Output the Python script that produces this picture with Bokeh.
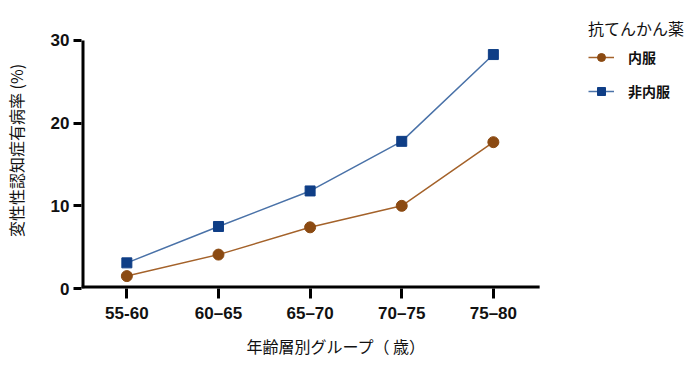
from bokeh.plotting import figure
from bokeh.models import Range1d, Legend, LegendItem, FixedTicker, Title
from bokeh.embed import file_html
from bokeh.resources import INLINE

categories = ["55-60", "60\u201365", "65\u201370", "70\u201375", "75\u201380"]
oral = [1.5, 4.1, 7.4, 10.0, 17.7]
non_oral = [3.1, 7.5, 11.8, 17.8, 28.3]
y_ticks = [0, 10, 20, 30]

xs = list(range(len(categories)))

brown = "#8b4a12"
brown_line = "#a4622a"
blue = "#0f3e86"
blue_line = "#4a72a8"

# axis extents (data units) of the visible axes
x_lo, x_hi = -0.495, 4.505
y_lo, y_hi = 0, 30

p = figure(width=692, height=375, output_backend="svg", toolbar_location=None,
           x_range=Range1d(x_lo, 6.086), y_range=Range1d(y_lo, 33.387),
           min_border_left=72, min_border_right=8, min_border_top=12, min_border_bottom=87)
p.outline_line_color = None
p.grid.visible = False

# axis lines drawn only over the data extent
p.segment(x0=[x_lo], y0=[y_lo], x1=[x_lo], y1=[y_hi], line_color="black", line_width=6)
p.segment(x0=[x_lo], y0=[y_lo], x1=[x_hi], y1=[y_lo], line_color="black", line_width=6)

l1 = p.line(xs, oral, line_color=brown_line, line_width=1.5)
s1 = p.scatter(xs, oral, marker="circle", size=11, fill_color=brown, line_color=brown)
l2 = p.line(xs, non_oral, line_color=blue_line, line_width=1.5)
s2 = p.scatter(xs, non_oral, marker="square", size=10, fill_color=blue, line_color=blue)

for ax in (p.xaxis[0], p.yaxis[0]):
    ax.axis_line_color = None
    ax.major_tick_line_width = 3
    ax.major_tick_line_color = "black"
    ax.minor_tick_line_color = None
    ax.major_tick_in = 0
    ax.major_label_text_font = "Liberation Sans"
    ax.major_label_text_font_style = "bold"
    ax.major_label_text_font_size = "17px"
    ax.major_label_text_color = "#111111"
    ax.axis_label_text_font = "Noto Sans CJK JP"
    ax.axis_label_text_font_style = "normal"
    ax.axis_label_text_font_size = "16px"
    ax.axis_label_text_color = "#111111"

p.xaxis.ticker = FixedTicker(ticks=xs)
p.xaxis.major_label_overrides = {i: c for i, c in enumerate(categories)}
p.xaxis.major_tick_out = 10
p.xaxis.major_label_standoff = 5

# x axis title placed under the data part of the axis
xtitle = Title(text="年齢層別グループ（ 歳）", align="left", offset=165, standoff=12,
               text_font="Noto Sans CJK JP", text_font_style="normal",
               text_font_size="16px", text_color="#111111")
p.add_layout(xtitle, "below")

p.yaxis.ticker = FixedTicker(ticks=y_ticks)
p.yaxis.major_tick_out = 8
p.yaxis.major_label_standoff = 4
p.yaxis.axis_label = "変性性認知症有病率 (%)"
p.yaxis.axis_label_standoff = 20

legend = Legend(items=[LegendItem(label="内服", renderers=[l1, s1]),
                       LegendItem(label="非内服", renderers=[l2, s2])],
                location=(507, 187))
legend.title = "抗てんかん薬"
legend.title_text_font = "Noto Sans CJK JP"
legend.title_text_font_size = "16px"
legend.title_text_font_style = "normal"
legend.title_text_color = "#111111"
legend.title_standoff = 7
legend.label_text_font = "Noto Sans CJK JP"
legend.label_text_font_style = "bold"
legend.label_text_font_size = "14px"
legend.label_text_color = "#111111"
legend.glyph_width = 26
legend.glyph_height = 20
legend.label_standoff = 14
legend.spacing = 14
legend.border_line_color = None
legend.background_fill_alpha = 0
p.add_layout(legend)

open("out.html", "w").write(file_html(p, INLINE))
